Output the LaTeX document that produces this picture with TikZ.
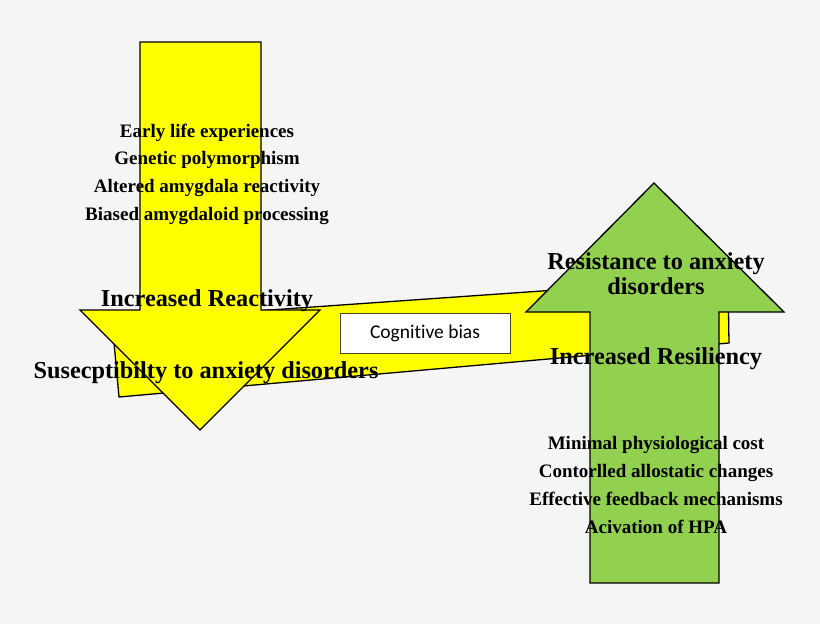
\documentclass[tikz,border=0pt]{standalone}
\usepackage{fontspec}
\setmainfont{Liberation Serif}
\newfontfamily\cajafont[Ligatures=NoCommon]{Carlito}
\definecolor{fondo}{RGB}{245,245,245}
\definecolor{amarillo}{RGB}{255,255,0}
\definecolor{verde}{RGB}{146,208,80}
\definecolor{borde}{RGB}{70,70,40}
\begin{document}
\begin{tikzpicture}[x=1pt,y=-1pt,
    texto/.style={font=\bfseries\fontsize{19}{27.7}\selectfont, align=center},
    titulo/.style={font=\bfseries\fontsize{24.3}{25}\selectfont, align=center}]
		\fill[fondo] (0,0) rectangle (820,624); % fondo

		% Banda amarilla -----------------------------------------------------------
		\draw[fill=amarillo, line width=1.3pt] (112,321) -- (728,278) -- (729,343) -- (119,397) -- cycle;

		% Flecha hacia abajo -------------------------------------------------------
		\draw[fill=amarillo, line width=1.3pt] (140,42) -- (261,42) -- (261,310) -- (320,310)
			-- (200,430) -- (80,310) -- (140,310) -- cycle;

		% Flecha hacia arriba ------------------------------------------------------
		\draw[fill=verde, line width=1.3pt] (590,583) -- (590,312) -- (526,312) -- (654,183)
			-- (784,312) -- (719,312) -- (719,583) -- cycle;

		% Caja central
		\node[draw=borde, fill=white, line width=1pt, minimum width=170, minimum height=40,
			font=\cajafont\fontsize{19.5}{22}\selectfont] (sesgo) at (425,333) {Cogni\kern0pt tive bias};

		% Textos lado izquierdo
		\node[texto] (factores) at (207,174) {Early life experiences\\Genetic polymorphism\\
			Altered amygdala reactivity\\Biased amygdaloid processing};
		\node[titulo] (reactividad) at (207,301) {Increased Reactivity};
		\node[titulo] (susceptibilidad) at (206,373) {Susecptibilty to anxiety disorders};

		% Textos lado derecho
		\node[titulo] (resistencia) at (656,274) {Resistance to anxiety\\disorders};
		\node[titulo] (resiliencia) at (656,359) {Increased Resiliency};
		\node[texto] (mecanismos) at (656,485) {Minimal physiological cost\\Contorlled allostatic changes\\
			Effective feedback mechanisms\\Acivation of HPA};
	\end{tikzpicture}
\end{document}
